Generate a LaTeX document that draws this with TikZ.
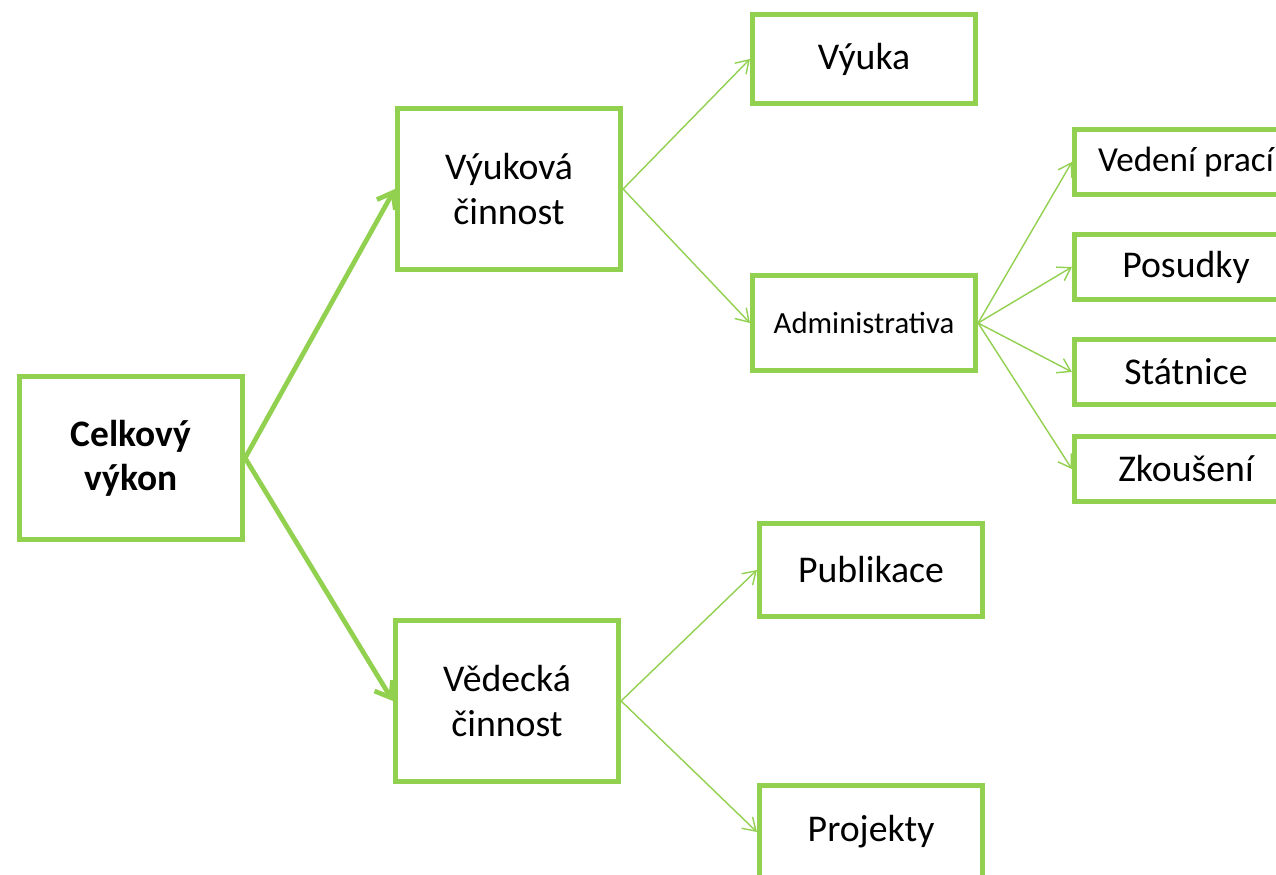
\documentclass[tikz,border=0pt]{standalone}
\usepackage{fontspec}
\setmainfont{Carlito}
\usetikzlibrary{arrows.meta}
\definecolor{lgreen}{RGB}{146,208,80}

\begin{document}
\begin{tikzpicture}[x=0.02cm,y=-0.02cm,
  box/.style={draw=lgreen,line width=2.7pt,minimum width=4.47cm,align=center,font=\fontsize{21.5}{25.5}\selectfont},
  big/.style={-{Straight Barb[length=8pt,width=12pt]},draw=lgreen,line width=2.7pt},
  small/.style={-{Straight Barb[length=7pt,width=9pt]},draw=lgreen,line width=0.8pt}]

\useasboundingbox (0,0) rectangle (1276,875);

\node[box,minimum height=3.27cm,font=\fontsize{21.3}{25}\selectfont\bfseries] (celk) at (131,458) {Celkový\\výkon};

\node[box,minimum height=3.21cm] (vyuc) at (509,189) {Výuková\\činnost};
\node[box,minimum height=3.21cm] (vedc) at (507,701) {Vědecká\\činnost};

\node[box,minimum height=1.79cm] (vyuka) at (864,59) {Výuka};
\node[box,minimum height=1.91cm,font=\fontsize{17.5}{21}\selectfont] (admin) at (864,323) {Administrativa};

\node[box,minimum height=1.31cm,font=\fontsize{20}{24}\selectfont] (vedeni) at (1186,162) {Vedení prací};
\node[box,minimum height=1.31cm] (posudky) at (1186,267) {Posudky};
\node[box,minimum height=1.31cm] (statnice) at (1186,372) {Státnice};
\node[box,minimum height=1.31cm] (zkouseni) at (1186,469) {Zkoušení};

\node[box,minimum height=1.85cm] (publ) at (871,570) {Publikace};
\node[box,minimum height=1.85cm] (proj) at (871,832) {Projekty};

\draw[big] (celk.east) -- (vyuc.west);
\draw[big] (celk.east) -- (vedc.west);

\draw[small] (vyuc.east) -- (vyuka.west);
\draw[small] (vyuc.east) -- (admin.west);

\draw[small] (admin.east) -- (vedeni.west);
\draw[small] (admin.east) -- (posudky.west);
\draw[small] (admin.east) -- (statnice.west);
\draw[small] (admin.east) -- (zkouseni.west);

\draw[small] (vedc.east) -- (publ.west);
\draw[small] (vedc.east) -- (proj.west);

\end{tikzpicture}
\end{document}
